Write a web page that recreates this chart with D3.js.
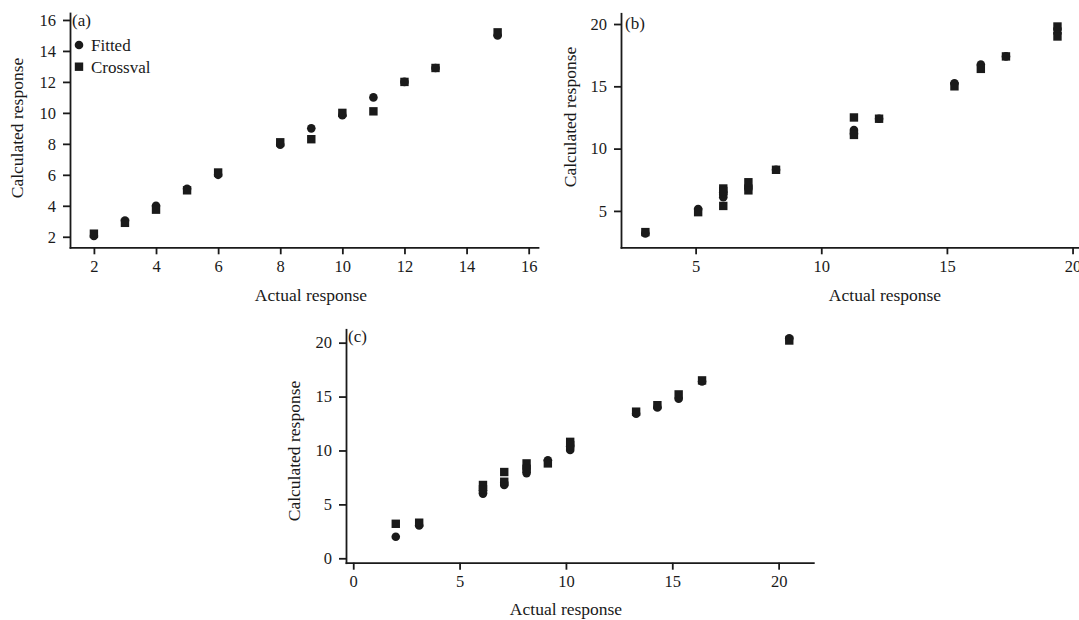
<!DOCTYPE html>
<head>
  <script src="https://d3js.org/d3.v7.min.js"></script>
  <meta charset='utf-8'>
  <style>
    body { margin: 0; background: white; }
    svg text { font-family: "Liberation Serif", "DejaVu Serif", serif; fill: #1a1a1a; }
    .axis path, .axis line { stroke: #1a1a1a; stroke-width: 1.8px; }
    .axis text { font-size: 16.5px; }
  </style>
</head>
<body>
<div id="chart"></div>
<script>

// panel (a): actual vs fitted / cross-validated response
var actualA   = [2, 3, 4, 5, 6, 8, 9, 10, 11, 12, 13, 15];
var fittedA   = [2.05, 3.05, 4.0, 5.1, 6.0, 7.95, 9.0, 9.85, 11.0, 12.0, 12.9, 15.0];
var crossvalA = [2.2, 2.9, 3.75, 5.0, 6.15, 8.1, 8.3, 10.0, 10.1, 12.0, 12.9, 15.2];

// panel (b)
var actualB   = [3.0, 5.1, 6.1, 6.1, 6.1, 7.1, 7.1, 8.2, 11.3, 11.3, 12.3, 15.3, 16.35, 17.35, 19.4, 19.4];
var fittedB   = [3.2, 5.15, 6.3, 6.1, 6.5, 7.0, 6.8, 8.3, 11.5, 11.2, 12.4, 15.25, 16.75, 17.4, 19.6, 19.3];
var crossvalB = [3.3, 4.9, 6.8, 5.4, 6.6, 7.3, 6.65, 8.3, 12.5, 11.1, 12.4, 15.0, 16.4, 17.4, 19.8, 19.0];

// panel (c)
var actualC   = [2.0, 3.1, 6.1, 6.1, 7.1, 7.1, 8.15, 8.15, 9.15, 10.2, 10.2, 13.3, 14.3, 15.3, 16.4, 20.5];
var fittedC   = [2.0, 3.05, 6.3, 6.0, 6.8, 7.0, 8.3, 7.9, 9.1, 10.05, 10.4, 13.4, 14.0, 14.8, 16.4, 20.4];
var crossvalC = [3.2, 3.3, 6.8, 6.4, 8.0, 7.1, 8.8, 8.3, 8.8, 10.8, 10.5, 13.6, 14.2, 15.2, 16.5, 20.2];

var xTicksA = [2, 4, 6, 8, 10, 12, 14, 16];
var yTicksA = [2, 4, 6, 8, 10, 12, 14, 16];
var xTicksB = [5, 10, 15, 20];
var yTicksB = [5, 10, 15, 20];
var xTicksC = [0, 5, 10, 15, 20];
var yTicksC = [0, 5, 10, 15, 20];

var legendLabels = ["Fitted", "Crossval"];

var svg = d3.select("#chart").append("svg")
    .attr("width", 1079)
    .attr("height", 620);

var ink = "#1a1a1a";

function drawPanel(p) {
  var x = d3.scaleLinear().domain(p.xDomain).range(p.xRange);
  var y = d3.scaleLinear().domain(p.yDomain).range(p.yRange);
  var g = svg.append("g");

  var rows = p.actual.map(function(a, i) {
    return {a: a, f: p.fitted[i], c: p.crossval[i]};
  });

  // fitted = circles
  g.selectAll("circle.fit").data(rows).join("circle")
    .attr("class", "fit")
    .attr("cx", function(d) { return x(d.a); })
    .attr("cy", function(d) { return y(d.f); })
    .attr("r", 4.3)
    .attr("fill", ink);

  // crossval = squares
  g.selectAll("rect.cv").data(rows).join("rect")
    .attr("class", "cv")
    .attr("x", function(d) { return x(d.a) - 4.2; })
    .attr("y", function(d) { return y(d.c) - 4.2; })
    .attr("width", 8.4)
    .attr("height", 8.4)
    .attr("fill", ink);

  g.append("g")
    .attr("class", "axis")
    .attr("transform", "translate(0," + p.yRange[0] + ")")
    .call(d3.axisBottom(x).tickValues(p.xTicks).tickSize(7).tickPadding(6).tickSizeOuter(0));

  g.append("g")
    .attr("class", "axis")
    .attr("transform", "translate(" + p.xRange[0] + ",0)")
    .call(d3.axisLeft(y).tickValues(p.yTicks).tickSize(7).tickPadding(7).tickSizeOuter(0));

  g.selectAll(".axis .domain").attr("stroke-linecap", "square");

  g.append("text")
    .attr("x", p.xTitle[0]).attr("y", p.xTitle[1])
    .attr("text-anchor", "middle")
    .style("font-size", "17.5px")
    .text("Actual response");

  g.append("text")
    .attr("transform", "translate(" + p.yTitle[0] + "," + p.yTitle[1] + ") rotate(-90)")
    .attr("text-anchor", "middle")
    .style("font-size", "17.5px")
    .text("Calculated response");

  g.append("text")
    .attr("x", p.tag[0]).attr("y", p.tag[1])
    .style("font-size", "17px")
    .text(p.label);
}

drawPanel({
  actual: actualA, fitted: fittedA, crossval: crossvalA,
  xDomain: [1.23, 16.3], xRange: [70, 538],
  yDomain: [1.32, 16.45], yRange: [247.3, 13],
  xTicks: xTicksA, yTicks: yTicksA,
  xTitle: [311, 301], yTitle: [23, 128], tag: [72, 26], label: "(a)"
});

drawPanel({
  actual: actualB, fitted: fittedB, crossval: crossvalB,
  xDomain: [2.03, 20.4], xRange: [621, 1082.6],
  yDomain: [2.08, 20.86], yRange: [247.3, 13.3],
  xTicks: xTicksB, yTicks: yTicksB,
  xTitle: [885, 301], yTitle: [576, 117], tag: [625, 29], label: "(b)"
});

drawPanel({
  actual: actualC, fitted: fittedC, crossval: crossvalC,
  xDomain: [-0.34, 21.63], xRange: [346, 813.3],
  yDomain: [-0.41, 21.24], yRange: [562.7, 329.3],
  xTicks: xTicksC, yTicks: yTicksC,
  xTitle: [566, 615], yTitle: [300, 451], tag: [348, 342], label: "(c)"
});

// legend in panel (a)
var leg = svg.append("g");
leg.append("circle").attr("cx", 79).attr("cy", 45).attr("r", 4.3).attr("fill", ink);
leg.append("rect").attr("x", 74.8).attr("y", 62.5).attr("width", 8.4).attr("height", 8.4).attr("fill", ink);
leg.selectAll("text").data(legendLabels).join("text")
  .attr("x", 91)
  .attr("y", function(d, i) { return 51 + i * 21.5; })
  .style("font-size", "17px")
  .text(function(d) { return d; });

</script>
</body>
